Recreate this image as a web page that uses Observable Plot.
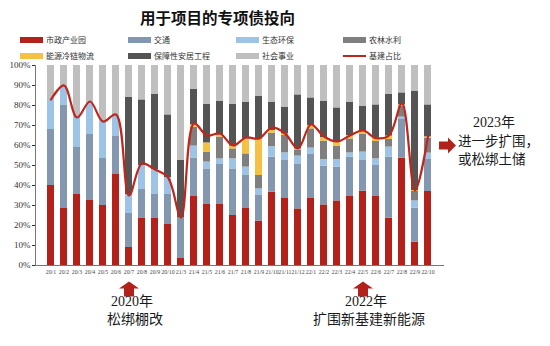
<!DOCTYPE html>
<html>
<head>
<meta charset="utf-8">
<script src="https://cdn.jsdelivr.net/npm/d3@7"></script>
<script src="https://cdn.jsdelivr.net/npm/@observablehq/plot@0.6"></script>
<style>
  html, body { margin: 0; padding: 0; background: #fff; }
  #wrap { position: relative; width: 550px; height: 346px; overflow: hidden; font-family: "Noto Sans CJK SC", sans-serif; }
  #title { position: absolute; left: 0; width: 435px; top: 6px; text-align: center; font-size: 15.5px; font-weight: bold; color: #111; }
  .leg { position: absolute; display: flex; align-items: center; font-size: 8px; color: #333; white-space: nowrap; }
  .sw { width: 23px; height: 6px; margin-right: 3px; }
  .ln { width: 23px; height: 2px; margin-right: 3px; }
  #chart { position: absolute; left: 0; top: 0; }
</style>
</head>
<body>
<div id="wrap">
  <div id="chart"></div>
  <div id="title">用于项目的专项债投向</div>
  <div id="legend"></div>
</div>
<script>
// ---------- data (percent shares) ----------
const months = ["20/1","20/2","20/3","20/4","20/5","20/6","20/7","20/8","20/9","20/10",
  "21/3","21/4","21/5","21/6","21/7","21/8","21/9","21/10","21/11","21/12",
  "22/1","22/2","22/3","22/4","22/5","22/6","22/7","22/8","22/9","22/10"];

const seriesNames = ["市政产业园","交通","生态环保","农林水利","能源冷链物流","保障性安居工程","社会事业"];
const lineName = "基建占比";

const shizheng = [40,28.5,35.5,32.5,30,45.5,9,23.5,23.5,20.5, 3.5,34.5,30.5,30.5,25,28.8,22.2,36.7,33.8,28.3, 33.8,30.3,32.3,34.5,37.2,34.5,23.7,53.7,11.7,37];
const jiaotong = [28,51.5,23.5,33,23.5,19,17,14.5,12,15, 20.3,19.2,17.8,20,23.3,16.5,13.1,17.5,18.7,22.5, 21.7,19.4,16.9,19.7,15.6,15.5,30.5,19.3,17,16];
const shengtai = [15,9.5,16,16,19,10.5,9.5,12,12.5,8.5, 0,6,3.4,2.8,5,3.9,3,5.3,3.8,3.9, 3.2,3.3,3.8,2.1,3.9,3.3,5,1.2,3.6,3.2];
const nonglin = [0,0,0,0,0,0,0,0,0,0, 0,9.5,5,10.9,5,6.6,6.7,6.7,8.7,2.8, 9.6,9.2,6.7,7,8.8,8.7,3.8,5.5,4.7,7.5];
const nengyuan = [0,0,0,0,0,0,0,0,0,0, 0,1.1,4.6,1.1,1.4,7.5,18.3,1.3,0.8,0.8, 1.7,1.8,2,1.7,1.5,1.7,1.7,0.6,0.5,0.6];
const baozhang = [0,0,0,0,0,0,48.5,32.8,37.5,31.3, 28.7,17.7,19.2,16.9,20.8,18.4,21.4,14.2,13.4,27, 13.8,18.2,17.1,16.7,12.7,16.6,20.8,6,49.7,16];
const shehui = [17,10.5,25,18.5,27.5,25,16,17.2,14.5,24.7, 47.5,12,19.5,17.8,19.5,18.3,15.3,18.3,20.8,14.7, 16.2,17.8,21.2,18.3,20.3,19.7,14.5,13.7,12.8,19.7];
const jijian = [83,90,74,82,72,75.5,35,51,48,44, 24,71,65,66,60,64,63.5,69,66,58.5, 70.5,64.5,62,65,67.5,63.7,65,81,37.5,64.5];

const yTicks = [0,10,20,30,40,50,60,70,80,90,100];

// ---------- styles ----------
const colors = ["#B3221A","#8497B0","#9DC3E6","#7F7F7F","#F6C142","#545454","#BFBFBF"];
const lineColor = "#C0261C";

// ---------- build tables ----------
const seriesValues = [shizheng, jiaotong, shengtai, nonglin, nengyuan, baozhang, shehui];
const barData = [];
seriesNames.forEach((s, i) => {
  months.forEach((m, j) => barData.push({month: m, series: s, value: seriesValues[i][j]}));
});
const lineData = months.map((m, j) => ({month: m, value: jijian[j]}));

// ---------- legend ----------
const legend = document.getElementById("legend");
const legItems = seriesNames.map((s, i) => ({name: s, color: colors[i], type: "bar"}));
legItems.push({name: lineName, color: lineColor, type: "line"});
const colX = [20, 128, 236, 343];
const rowY = [34, 50];
legItems.forEach((it, k) => {
  const d = document.createElement("div");
  d.className = "leg";
  d.style.left = colX[k % 4] + "px";
  d.style.top = rowY[Math.floor(k / 4)] + "px";
  const sw = document.createElement("span");
  sw.className = it.type === "bar" ? "sw" : "ln";
  sw.style.background = it.color;
  d.appendChild(sw);
  d.appendChild(document.createTextNode(it.name));
  legend.appendChild(d);
});

// ---------- arrow symbols ----------
const upArrow = { draw(ctx) {
  ctx.moveTo(0, -7); ctx.lineTo(10, 0); ctx.lineTo(5, 0); ctx.lineTo(5, 8);
  ctx.lineTo(-5, 8); ctx.lineTo(-5, 0); ctx.lineTo(-10, 0); ctx.closePath();
}};
const rightArrow = { draw(ctx) {
  ctx.moveTo(8, 0); ctx.lineTo(0, -8); ctx.lineTo(0, -4); ctx.lineTo(-9, -4);
  ctx.lineTo(-9, 4); ctx.lineTo(0, 4); ctx.lineTo(0, 8); ctx.closePath();
}};

const annFont = "'Liberation Serif', 'Noto Sans CJK SC', serif";

const chart = Plot.plot({
  width: 550,
  height: 346,
  marginTop: 65,
  marginBottom: 81,
  marginLeft: 35,
  marginRight: 106,
  style: {background: "transparent", overflow: "visible"},
  x: {domain: months, paddingInner: 0.45, paddingOuter: 0.24, label: null},
  y: {domain: [0, 100], label: null},
  color: {domain: seriesNames, range: colors},
  marks: [
    Plot.barY(barData, {x: "month", y: "value", fill: "series"}),
    Plot.line(lineData, {x: "month", y: "value", stroke: lineColor, strokeWidth: 2.2, curve: "catmull-rom"}),
    Plot.axisY({ticks: yTicks, tickFormat: d => d + "%", tickSize: 3, tickPadding: 2, fontSize: 9,
      fontFamily: "'Liberation Serif', serif", color: "#333", label: null}),
    Plot.axisX({tickSize: 0, tickPadding: 4, fontSize: 5.8, fontFamily: "'Liberation Serif', serif", color: "#444", label: null}),
    Plot.ruleY([0], {stroke: "#777"}),
    Plot.frame({anchor: "left", stroke: "#777"}),
    // annotations
    Plot.dot([{m: "20/7"}, {m: "22/5"}], {x: "m", frameAnchor: "bottom", dy: 23, symbol: upArrow, fill: "#B3221A", stroke: "none"}),
    Plot.text([{m: "20/7", t: "2020年"}, {m: "22/5", t: "2022年"}], {x: "m", text: "t", frameAnchor: "bottom", dy: 40, dx: 3,
      fontSize: 14, fontFamily: annFont, fill: "#1a1a1a"}),
    Plot.text([{m: "20/7", t: "松绑棚改"}, {m: "22/5", t: "扩围新基建新能源"}], {x: "m", text: "t", frameAnchor: "bottom", dy: 58, dx: 6,
      fontSize: 14, fontFamily: annFont, fill: "#1a1a1a"}),
    Plot.dot([{m: "22/10"}], {x: "m", frameAnchor: "top", dy: 80, dx: 20, symbol: rightArrow, fill: "#B3221A", stroke: "none"}),
    Plot.text([{m: "22/10", t: "2023年"}], {x: "m", text: "t", frameAnchor: "top", dy: 52, dx: 66,
      fontSize: 14, fontFamily: annFont, fill: "#1a1a1a"}),
    Plot.text([{m: "22/10", t: "进一步扩围，"}], {x: "m", text: "t", frameAnchor: "top",
      dy: 71, dx: 30, textAnchor: "start", fontSize: 13.5, fontFamily: annFont, fill: "#1a1a1a"}),
    Plot.text([{m: "22/10", t: "或松绑土储"}], {x: "m", text: "t", frameAnchor: "top",
      dy: 89, dx: 30, textAnchor: "start", fontSize: 13.5, fontFamily: annFont, fill: "#1a1a1a"})
  ]
});
document.getElementById("chart").appendChild(chart);
</script>
</body>
</html>
